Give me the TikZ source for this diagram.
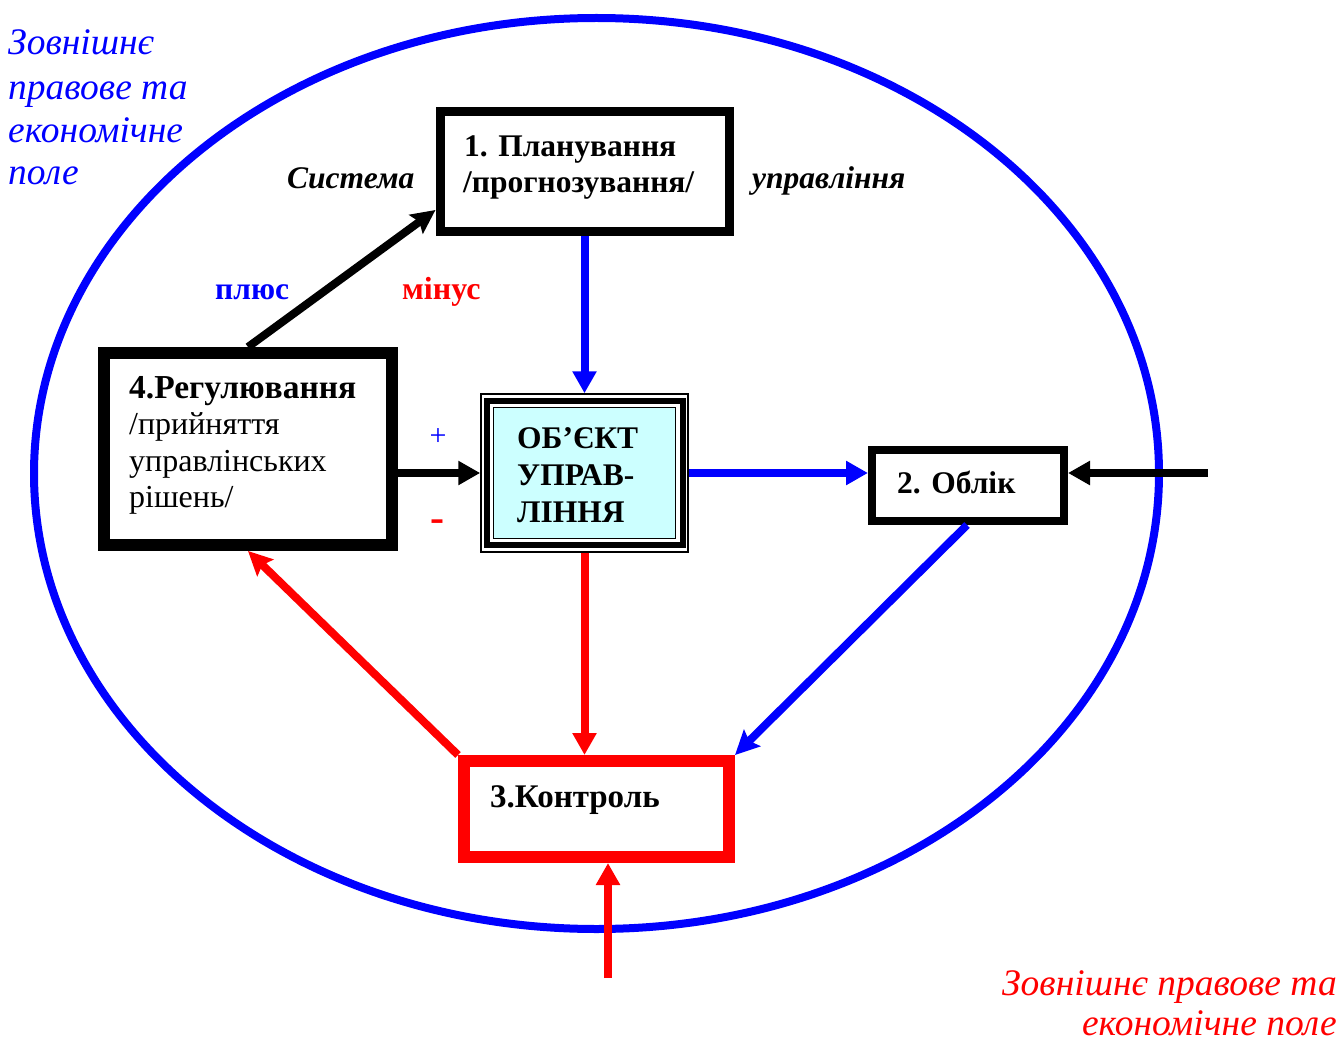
\documentclass[tikz,border=0pt]{standalone}
\usepackage{fontspec}
\setmainfont{Liberation Serif}
\usetikzlibrary{arrows.meta}
\definecolor{pblue}{RGB}{0,0,255}
\definecolor{pred}{RGB}{255,0,0}
\definecolor{pcyan}{RGB}{204,255,255}
\begin{document}
\begin{tikzpicture}[x=1pt,y=-1pt,
  box/.style={draw, rectangle, inner sep=0pt, fill=white},
  txt/.style={anchor=base west, inner sep=0pt, font=\fontsize{31.5}{36}\selectfont\bfseries},
  rtxt/.style={anchor=base west, inner sep=0pt, font=\fontsize{32}{36}\selectfont},
  itxt/.style={inner sep=0pt, font=\fontsize{37.5}{42}\selectfont\itshape},
  conn/.style={line width=8pt, -{Triangle[length=22pt,width=23pt]}},
  dconn/.style={line width=8pt, -{Stealth[length=24pt,width=23pt,inset=4pt]}},
]
\useasboundingbox (0,0) rectangle (1342,1043);
% field
\draw[pblue, line width=8pt] (596.5,473.5) ellipse [x radius=562.5pt, y radius=455.5pt];

% boxes
\node[box, line width=9pt, minimum width=289pt, minimum height=120pt] (plan) at (584.5,172) {};
\node[box, line width=1.5pt, minimum width=207pt, minimum height=158pt] (obj) at (584.5,473) {};
\node[draw, inner sep=0pt, line width=6pt, minimum width=196pt, minimum height=144pt] (objmid) at (obj.center) {};
\node[draw, fill=pcyan, inner sep=0pt, line width=1.5pt, minimum width=182pt, minimum height=131pt] (objin) at (obj.center) {};
\node[box, line width=8pt, minimum width=192pt, minimum height=71pt] (oblik) at (968,485.5) {};
\node[box, draw=pred, line width=12pt, minimum width=265pt, minimum height=96pt] (kontrol) at (596.5,809) {};
\node[box, line width=12pt, minimum width=288pt, minimum height=192pt] (reg) at (248,449) {};

% free ends
\coordinate (extR) at (1208,473);
\coordinate (extB) at (608,978);

% connectors
\draw[dconn, black] (reg.north) -- ([yshift=-38pt]plan.west);
\draw[conn, pblue] (plan.south) -- (obj.north);
\draw[conn, pblue] (obj.east) -- (obj.east -| oblik.west);
\draw[conn, black] (extR) -- (extR -| oblik.east);
\draw[conn, pred] (obj.south) -- (obj.south |- kontrol.north);
\draw[dconn, pblue] ([xshift=-1pt]oblik.south) -- (kontrol.north east);
\draw[dconn, pred] (kontrol.north west) -- (reg.south);
\draw[conn, black] (reg.east |- obj.west) -- (obj.west);
\draw[conn, pred] (extB) -- (extB |- kontrol.south);

% box texts
\node[txt] (plan1) at (464,157) {1. Планування};
\node[txt] (plan2) at (463,193) {/прогнозування/};
\node[txt] (obj1) at (517,448) {ОБ’ЄКТ};
\node[txt] (obj2) at (517,485) {УПРАВ-};
\node[txt] (obj3) at (517,522) {ЛІННЯ};
\node[txt] (oblikt) at (897,493) {2. Облік};
\node[txt, font=\fontsize{33}{36}\selectfont\bfseries] (kontrolt) at (490,807) {3.Контроль};
\node[txt, font=\fontsize{33.5}{36}\selectfont\bfseries] (reg1) at (129,398) {4.Регулювання};
\node[rtxt] (reg2) at (129,434.5) {/прийняття};
\node[rtxt] (reg3) at (129,471) {управлінських};
\node[rtxt] (reg4) at (129,507.5) {рішень/};

% labels
\node[txt, font=\fontsize{31.5}{36}\selectfont\bfseries\itshape] (sys) at (287,189) {Система};
\node[txt, font=\fontsize{31.5}{36}\selectfont\bfseries\itshape] (upr) at (752,189) {управління};
\node[txt, font=\fontsize{31.5}{36}\selectfont\bfseries, text=pblue] (plus) at (215,300) {плюс};
\node[txt, font=\fontsize{32}{36}\selectfont\bfseries, text=pred] (minus) at (402,300) {мінус};
\node[inner sep=0pt, text=pblue, font=\fontsize{30}{36}\selectfont] (plussign) at (438,437) {+};
\node[inner sep=0pt, text=pred, font=\fontsize{42}{48}\selectfont\bfseries] (minussign) at (437,526) {-};

% external field labels
\node[itxt, anchor=base west, text=pblue] (f1) at (8,55) {Зовнішнє};
\node[itxt, anchor=base west, text=pblue] (f2) at (8,100) {правове та};
\node[itxt, anchor=base west, text=pblue] (f3) at (8,143) {економічне};
\node[itxt, anchor=base west, text=pblue] (f4) at (8,185) {поле};
\node[itxt, anchor=base east, text=pred] (g1) at (1337,995) {Зовнішнє правове та};
\node[itxt, anchor=base east, text=pred] (g2) at (1337,1035) {економічне поле};
\end{tikzpicture}
\end{document}
